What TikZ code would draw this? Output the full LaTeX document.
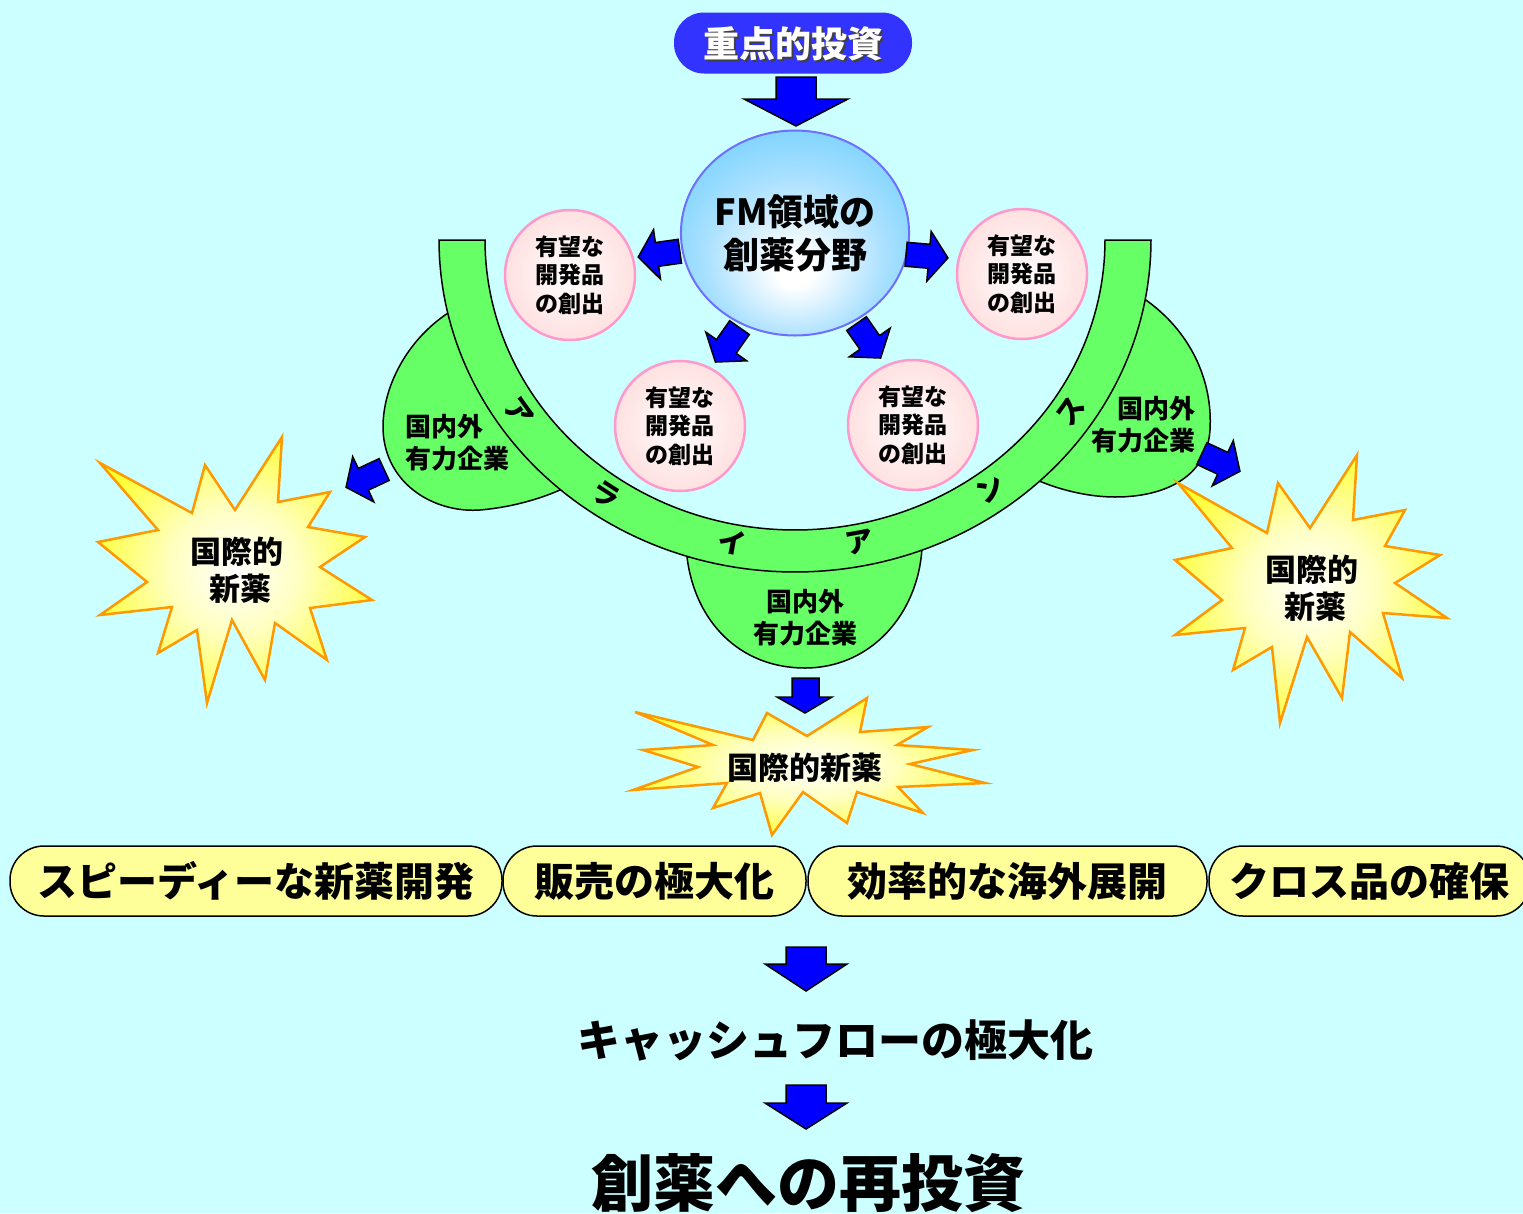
\documentclass[tikz,border=0pt]{standalone}
\usepackage{fontspec}
\setmainfont{Noto Sans CJK JP}
\usetikzlibrary{shapes.geometric}
\definecolor{bg}{HTML}{CCFFFF}
\definecolor{pillblue}{HTML}{3333FF}
\definecolor{arrowblue}{HTML}{0000FF}
\definecolor{bandgreen}{HTML}{66FF66}
\definecolor{ballblue}{HTML}{66CCFF}
\definecolor{ballmid}{HTML}{A8E0FF}
\definecolor{balledge}{HTML}{6F6FFF}
\definecolor{pinkfill}{HTML}{FFCCCC}
\definecolor{pinkmid}{HTML}{FFE6E6}
\definecolor{pinkedge}{HTML}{FF99CC}
\definecolor{burstedge}{HTML}{FF9900}
\definecolor{burstmid}{HTML}{FFFFC0}
\definecolor{burstyellow}{HTML}{FFFF1A}
\definecolor{boxyellow}{HTML}{FFFF99}
\pgfdeclareradialshading{ballshade}{\pgfpoint{0bp}{-10bp}}{color(0bp)=(white); color(4bp)=(white); color(20bp)=(ballmid); color(36bp)=(ballblue); color(50bp)=(ballblue)}
\pgfdeclareradialshading{pinkshade}{\pgfpoint{0bp}{0bp}}{color(0bp)=(white); color(20bp)=(pinkmid); color(50bp)=(pinkfill)}
\pgfdeclareradialshading{burstshade}{\pgfpoint{0bp}{0bp}}{color(0bp)=(white); color(12bp)=(burstmid); color(30bp)=(burstyellow); color(50bp)=(burstyellow)}
\begin{document}
\begin{tikzpicture}[x=1pt,y=-1pt,
  every node/.style={font=\bfseries, inner sep=0pt, align=center},
  bluearrow/.style={fill=arrowblue, draw=black, line width=1.5pt, line join=miter},
  greenshape/.style={fill=bandgreen, draw=black, line width=1.5pt},
  burst/.style={shade, shading=burstshade, draw=burstedge, line width=2.5pt, line join=miter},
  pinkball/.style={circle, minimum size=130pt, shade, shading=pinkshade, draw=pinkedge, line width=2.5pt, font=\bfseries\fontsize{23}{28.5}\selectfont},
  ball/.style={ellipse, minimum width=214pt, minimum height=205pt, shade, shading=ballshade, draw=balledge, line width=2pt, font=\bfseries\fontsize{36}{43}\selectfont},
  lobetext/.style={font=\bfseries\fontsize{26}{32}\selectfont},
  alch/.style={font=\bfseries\fontsize{28}{30}\selectfont},
  bursttext/.style={font=\bfseries\fontsize{31}{37}\selectfont},
  ybox/.style={draw=black, line width=1.5pt, fill=boxyellow, rounded corners=34pt, minimum height=70pt, font=\bfseries\fontsize{40}{44}\selectfont},
  smallarr/.pic={\draw[bluearrow] (22,0) -- (3,-25) -- (3,-12) -- (-20,-12) -- (-20,12) -- (3,12) -- (3,25) -- cycle;}
]
\useasboundingbox (0,0) rectangle (1523,1213);
\fill[bg] (0,0) rectangle (1523,1213);

% top pill
\node[fill=pillblue, rounded corners=30pt, minimum width=238pt, minimum height=61pt] (top) at (793,43) {};
\node[text=black!75, font=\bfseries\fontsize{36}{40}\selectfont] (topshadow) at (795,46) {重点的投資};
\node[text=white, font=\bfseries\fontsize{36}{40}\selectfont] (toptext) at (793,44) {重点的投資};

% top arrow
\draw[bluearrow] (776,77) -- (816,77) -- (816,99) -- (848,99) -- (796,126) -- (744,99) -- (776,99) -- cycle;

% FM ball
\node[ball] (fm) at (795,233) {FM領域の\\創薬分野};

% pink balls
\node[pinkball] (p1) at (570,275) {有望な\\開発品\\の創出};
\node[pinkball] (p2) at (1022,274) {有望な\\開発品\\の創出};
\node[pinkball] (p3) at (680,426) {有望な\\開発品\\の創出};
\node[pinkball] (p4) at (913,425) {有望な\\開発品\\の創出};

% arrows from ball to pink balls
\pic[rotate=188] at (660,254) {smallarr};
\pic[rotate=355] at (926,256) {smallarr};
\pic[rotate=235] at (728,344) {smallarr};
\pic[rotate=305] at (868,340) {smallarr};

% green lobes
\draw[greenshape] (448,313) .. controls (400,345) and (378,400) .. (384,440) .. controls (392,490) and (440,513) .. (480,510) .. controls (515,507) and (545,497) .. (562,489) -- (495,380) -- cycle;
\draw[greenshape] (1143,298) .. controls (1190,330) and (1213,380) .. (1210,430) .. controls (1207,475) and (1168,497) .. (1115,497) .. controls (1085,497) and (1055,488) .. (1037,480) -- (1095,400) -- cycle;
\draw[greenshape] (687,557) .. controls (695,622) and (740,668) .. (805,668) .. controls (870,668) and (918,615) .. (922,548) -- (805,540) -- cycle;

% alliance band
\draw[greenshape] plot[domain=0:180, samples=120] ({795-356*cos(\x)},{240+332*sin(\x)}) -- plot[domain=180:0, samples=120] ({795-310*cos(\x)},{240+290*sin(\x)}) -- cycle;

\node[alch, rotate=-54.2] (al1) at (519,412) {ア};
\node[alch, rotate=-32.7] (al2) at (606,495) {ラ};
\node[alch, rotate=-10.3] (al3) at (732,542) {イ};
\node[alch, rotate=10.3] (al4) at (860,542) {ア};
\node[alch, rotate=34.2] (al5) at (990,489) {ン};
\node[alch, rotate=54.2] (al6) at (1071,411) {ス};

% lobe texts
\node[lobetext, anchor=west, align=left] (k1) at (405,443) {国内外\\有力企業};
\node[lobetext, anchor=east, align=right] (k2) at (1196,425) {国内外\\有力企業};
\node[lobetext] (k3) at (805,618) {国内外\\有力企業};

% starbursts
\draw[burst] (98,542) -- (158,530) -- (100,463) -- (192,513) -- (205,465) -- (235,510) -- (282,437) -- (278,502) -- (330,492) -- (308,527) -- (365,537) -- (320,567) -- (372,600) -- (310,608) -- (327,660) -- (275,623) -- (265,680) -- (232,620) -- (207,703) -- (197,630) -- (158,653) -- (172,607) -- (100,615) -- (147,582) -- cycle;
\draw[burst] (1175,560) -- (1232,548) -- (1178,483) -- (1267,533) -- (1278,483) -- (1310,528) -- (1357,455) -- (1353,520) -- (1405,510) -- (1385,546) -- (1440,555) -- (1395,583) -- (1447,618) -- (1383,613) -- (1402,678) -- (1350,632) -- (1342,698) -- (1307,637) -- (1280,723) -- (1272,647) -- (1233,670) -- (1245,628) -- (1175,635) -- (1222,600) -- cycle;
\draw[burst] (635,712) -- (753,740) -- (767,713) -- (807,736) -- (867,698) -- (860,732) -- (928,727) -- (897,745) -- (973,750) -- (910,764) -- (985,783) -- (898,787) -- (923,813) -- (857,792) -- (847,823) -- (803,792) -- (772,835) -- (760,793) -- (713,808) -- (727,783) -- (633,790) -- (698,767) -- (643,750) -- (713,745) -- cycle;

\node[bursttext] (b1) at (237,570) {国際的\\\ 新薬};
\node[bursttext] (b2) at (1312,588) {国際的\\\ 新薬};
\node[bursttext] (b3) at (805,768) {国際的新薬};

% arrows from lobes
\pic[rotate=205] at (366,478) {smallarr};
\pic[rotate=335] at (1220,462) {smallarr};
\draw[bluearrow] (792,678) -- (819,678) -- (819,697) -- (832,697) -- (805,713) -- (777,697) -- (792,697) -- cycle;

% yellow boxes
\node[ybox, minimum width=492pt] (y1) at (256,881) {スピーディーな新薬開発};
\node[ybox, minimum width=303pt] (y2) at (654.5,881) {販売の極大化};
\node[ybox, minimum width=399pt] (y3) at (1007.5,881) {効率的な海外展開};
\node[ybox, minimum width=321pt] (y4) at (1369.5,881) {クロス品の確保};

% bottom flow
\draw[bluearrow] (786,947) -- (826,947) -- (826,964) -- (847,964) -- (806,991) -- (765,964) -- (786,964) -- cycle;
\node[font=\bfseries\fontsize{43}{46}\selectfont] (cf) at (835,1040) {キャッシュフローの極大化};
\draw[bluearrow] (786,1085) -- (826,1085) -- (826,1103) -- (847,1103) -- (806,1129) -- (765,1103) -- (786,1103) -- cycle;
\node[font=\bfseries\fontsize{62}{66}\selectfont] (ri) at (808,1183) {創薬への再投資};
\end{tikzpicture}
\end{document}
